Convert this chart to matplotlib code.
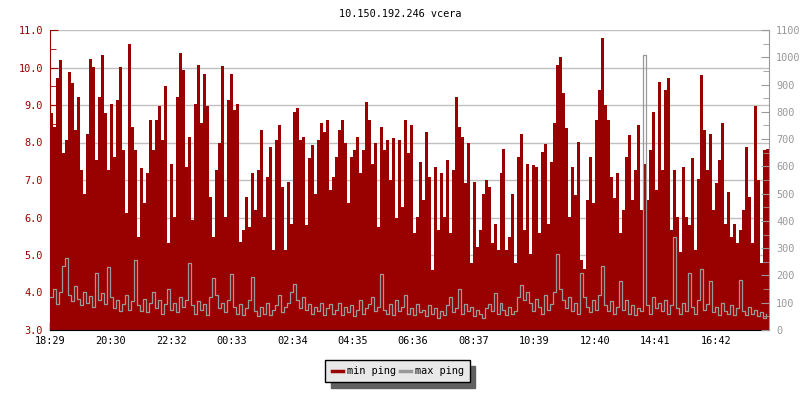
"""Ping chart: min ping (red fill) and max ping (gray line) over one day"""
import numpy as np
import matplotlib.pyplot as plt
from matplotlib.ticker import MultipleLocator, FormatStrFormatter

# data, one sample every 6 minutes starting 18:29
min_ping = [
    8.78, 8.42, 9.71, 10.2, 7.71, 8.07, 9.89, 9.58, 8.33, 9.22,
    7.27, 6.64, 8.24, 10.24, 10.02, 7.53, 9.22, 10.33, 8.78, 7.27,
    9.04, 7.62, 9.13, 10.02, 7.8, 6.11, 10.64, 8.42, 7.8, 5.49,
    7.31, 6.38, 7.18, 8.6, 7.8, 8.6, 8.96, 8.07, 9.51, 5.31,
    7.44, 6.02, 9.22, 10.4, 9.93, 7.36, 8.16, 5.93, 9.04, 10.07,
    8.51, 9.84, 8.96, 6.56, 5.49, 7.27, 7.98, 10.04, 6.02, 9.13,
    9.84, 8.87, 9.04, 5.36, 5.67, 6.56, 5.76, 7.18, 6.2, 7.27,
    8.33, 6.02, 7.09, 7.89, 5.13, 8.07, 8.47, 6.82, 5.13, 6.96,
    5.84, 8.82, 8.91, 8.07, 8.16, 5.8, 7.58, 7.93, 6.64, 8.07,
    8.51, 8.29, 8.6, 6.73, 7.09, 7.62, 8.33, 8.6, 7.98, 6.38,
    7.62, 7.8, 8.16, 7.18, 7.8, 9.09, 8.6, 7.44, 7.98, 5.76,
    8.42, 7.8, 8.07, 7.0, 8.11, 5.98, 8.07, 6.29, 8.6, 7.71,
    8.47, 5.58, 6.02, 7.49, 6.47, 8.29, 7.09, 4.6, 7.36, 5.67,
    7.18, 6.02, 7.53, 5.58, 7.27, 9.22, 8.42, 8.16, 6.91, 7.98,
    4.78, 6.96, 5.22, 5.67, 6.64, 7.0, 6.82, 5.31, 5.84, 5.13,
    7.18, 7.84, 5.13, 5.49, 6.64, 4.78, 7.62, 8.24, 5.67, 7.44,
    5.04, 7.4, 7.36, 5.58, 7.76, 7.96, 5.84, 7.49, 8.51, 10.07,
    10.29, 9.31, 8.38, 6.02, 7.36, 6.6, 8.02, 4.87, 4.64, 6.47,
    7.62, 6.38, 8.6, 9.4, 10.78, 9.0, 8.6, 7.09, 6.51, 7.18,
    5.58, 6.2, 7.62, 8.2, 6.47, 7.27, 8.47, 6.2, 7.44, 6.47,
    7.8, 8.82, 6.73, 9.62, 7.27, 9.4, 9.71, 5.67, 7.27, 6.02,
    5.09, 7.36, 6.02, 5.8, 7.58, 5.13, 7.04, 9.8, 8.33, 7.27,
    8.24, 6.2, 6.91, 7.53, 8.51, 5.84, 6.69, 5.49, 5.84, 5.31,
    5.67, 6.2, 7.89, 6.56, 5.31, 8.96, 7.0, 4.78, 7.8, 7.84,
]

max_ping = [
    120, 150, 95, 140, 235, 265, 130, 105, 160, 115,
    90, 140, 100, 125, 85, 210, 110, 135, 95, 230,
    120, 80, 110, 70, 95, 130, 75, 105, 255, 90,
    70, 115, 65, 100, 140, 80, 110, 60, 95, 150,
    75, 100, 65, 120, 85, 110, 245, 90, 60, 105,
    75, 95, 55, 120, 190, 130, 80, 100, 65, 110,
    205, 85, 60, 95, 55, 80, 110, 195, 70, 50,
    85, 60, 100, 55, 75, 90, 130, 65, 85, 100,
    140, 170, 110, 80, 120, 75, 95, 60, 85, 70,
    100, 55, 80, 95, 60, 75, 100, 55, 85, 65,
    90, 50, 75, 110, 60, 80, 95, 120, 70, 85,
    205, 75, 60, 95, 55, 110, 70, 85, 130, 60,
    80, 55, 95, 65, 75, 50, 90, 60, 80, 45,
    70, 55, 90, 120, 65, 80, 150, 60, 95, 70,
    85, 50, 75, 60, 45, 80, 95, 70, 135, 60,
    100, 75, 55, 85, 60, 70, 120, 165, 110, 140,
    100, 70, 115, 85, 60, 130, 75, 95, 140, 280,
    150, 110, 80, 120, 70, 100, 60, 210, 120, 85,
    65, 110, 75, 130, 235, 90, 70, 105, 60, 85,
    180, 75, 110, 60, 90, 55, 80, 70, 1010, 90,
    60, 120, 80, 100, 70, 110, 60, 90, 340, 80,
    60, 100, 70, 210, 85, 60, 110, 225, 75, 95,
    180, 65, 85, 55, 100, 70, 60, 90, 55, 80,
    185, 70, 55, 85, 60, 75, 50, 65, 45, 60,
]

tick_minutes = [0, 121, 243, 364, 485, 606, 727, 848, 970, 1091, 1212, 1333]
tick_labels = ['18:29', '20:30', '22:32', '00:33', '02:34', '04:35',
               '06:36', '08:37', '10:39', '12:40', '14:41', '16:42']

step = 6
t = np.arange(len(min_ping)) * step

red = '#990000'
gray = '#999999'
fs = 7.4
plt.rcParams['font.family'] = 'DejaVu Sans Mono'
plt.rcParams['font.size'] = fs

fig = plt.figure(figsize=(8, 4), dpi=100)
ax = fig.add_axes([0.0625, 0.175, 0.899, 0.75])

ax.bar(t, min_ping, width=step, align='edge', color=red, linewidth=0, label='min ping')
ax.set_ylim(3, 11)
ax.set_xlim(0, len(min_ping) * step)
ax.yaxis.set_major_locator(MultipleLocator(1))
ax.yaxis.set_minor_locator(MultipleLocator(0.5))
ax.yaxis.set_major_formatter(FormatStrFormatter('%.1f'))
ax.grid(True, axis='y', color='#c0c0c0', linewidth=1)
ax.set_axisbelow(True)
ax.set_xticks(tick_minutes)
ax.set_xticklabels(tick_labels)
ax.tick_params(axis='y', which='both', direction='in', colors=red, labelcolor=red, pad=5)
ax.tick_params(axis='y', which='major', length=6)
ax.tick_params(axis='y', which='minor', length=4)
ax.tick_params(axis='x', direction='in', length=6, colors='black', width=1, pad=4)
ax.spines['top'].set_visible(False)
ax.spines['right'].set_visible(False)
ax.spines['left'].set_color(red)
ax.spines['bottom'].set_color('black')

ax2 = ax.twinx()
ax2.step(t, max_ping, where='post', color=gray, linewidth=0.9, label='max ping')
ax2.set_ylim(0, 1100)
ax2.yaxis.set_major_locator(MultipleLocator(100))
ax2.yaxis.set_minor_locator(MultipleLocator(50))
ax2.tick_params(axis='y', which='both', direction='in', colors=gray, labelcolor=gray, pad=5)
ax2.tick_params(axis='y', which='major', length=6)
ax2.tick_params(axis='y', which='minor', length=4)
for s in ['top', 'left', 'bottom']:
    ax2.spines[s].set_visible(False)
ax2.spines['right'].set_color(gray)

fig.text(0.5, 0.965, '10.150.192.246 vcera', ha='center', va='center', fontsize=fs)

h1, l1 = ax.get_legend_handles_labels()
h2, l2 = ax2.get_legend_handles_labels()
handles = [plt.Line2D([], [], color=red, linewidth=2.5),
           plt.Line2D([], [], color=gray, linewidth=2.5)]
leg = fig.legend(handles, l1 + l2, loc='center', bbox_to_anchor=(0.497, 0.072),
                 ncol=2, frameon=True, fancybox=False,
                 shadow={'color': '#606060', 'alpha': 1, 'ox': 4, 'oy': -4},
                 handlelength=1.1, handletextpad=0.35, columnspacing=0.4,
                 borderpad=0.6, fontsize=fs)
leg.get_frame().set_facecolor('#e8e8e8')
leg.get_frame().set_edgecolor('black')
leg.get_frame().set_alpha(1)

plt.savefig('out.png', dpi=100)
